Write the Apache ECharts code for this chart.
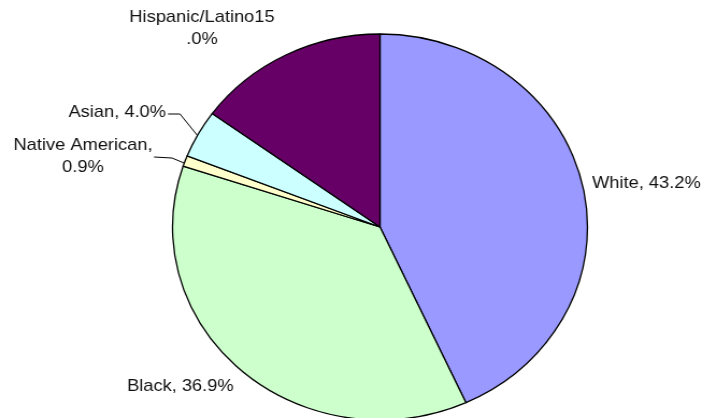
<!DOCTYPE html>
<html>
<head>
<meta charset="utf-8">
<script src="https://cdn.jsdelivr.net/npm/echarts@6/dist/echarts.min.js"></script>
<style>
  html, body { margin: 0; padding: 0; background: #fff; overflow: hidden; }
  #wrap { width: 707px; height: 418px; overflow: hidden; position: relative; }
  #chart { position: absolute; left: 0; top: 0; height: 418px; transform-origin: 0 0; }
</style>
</head>
<body>
<div id="wrap"><div id="chart"></div></div>
<script>
// Data
const categories = ['White', 'Black', 'Native American', 'Asian', 'Hispanic/Latino'];
const values = [43.2, 36.9, 0.9, 4.0, 15.0];
const labelTexts = ['White, 43.2%', 'Black, 36.9%', 'Native American,\n0.9%', 'Asian, 4.0%', 'Hispanic/Latino15\n.0%'];

// Styling
const colors = ['#9999FF', '#CCFFCC', '#FFFFCC', '#CCFFFF', '#660066'];
const S = 1.075; // horizontal stretch of the original picture
const W = 707 / S;
const el = document.getElementById('chart');
el.style.width = W + 'px';
el.style.transform = 'scaleX(' + S + ')';

// label placement in screen pixels
const labelPos = [
  { x: 592, y: 183, align: 'left', vAlign: 'middle' },
  { x: 127, y: 386, align: 'left', vAlign: 'middle' },
  { x: 83, y: 156, align: 'center', vAlign: 'middle', line: [[154, 157], [172, 158], [184, 163]] },
  { x: 166, y: 112, align: 'right', vAlign: 'middle', line: [[168, 114], [180, 114], [197, 135]] },
  { x: 202, y: 28, align: 'center', vAlign: 'middle' }
];

const chart = echarts.init(el, null, { renderer: 'canvas' });
chart.setOption({
  animation: false,
  backgroundColor: '#fff',
  series: [{
    type: 'pie',
    center: [380 / S, 227],
    radius: 193,
    startAngle: 90,
    clockwise: true,
    avoidLabelOverlap: false,
    minShowLabelAngle: 0,
    itemStyle: { borderColor: '#000', borderWidth: 1.3 },
    label: {
      show: true,
      position: 'outside',
      fontFamily: 'Liberation Sans, Arial, sans-serif',
      fontSize: 17,
      lineHeight: 22,
      color: '#111'
    },
    labelLine: { show: true, lineStyle: { color: '#000', width: 1 }, length: 10, length2: 10 },
    emphasis: { disabled: true },
    data: categories.map((c, i) => ({
      name: c,
      value: values[i],
      itemStyle: { color: colors[i] },
      label: { formatter: labelTexts[i] },
      labelLine: { show: !!labelPos[i].line }
    })),
    labelLayout: function (p) {
      const lp = labelPos[p.dataIndex];
      const r = {
        x: lp.x / S,
        y: lp.y,
        align: lp.align,
        verticalAlign: lp.vAlign
      };
      if (lp.line) r.labelLinePoints = lp.line.map(pt => [pt[0] / S, pt[1]]);
      return r;
    }
  }]
});
</script>
</body>
</html>
